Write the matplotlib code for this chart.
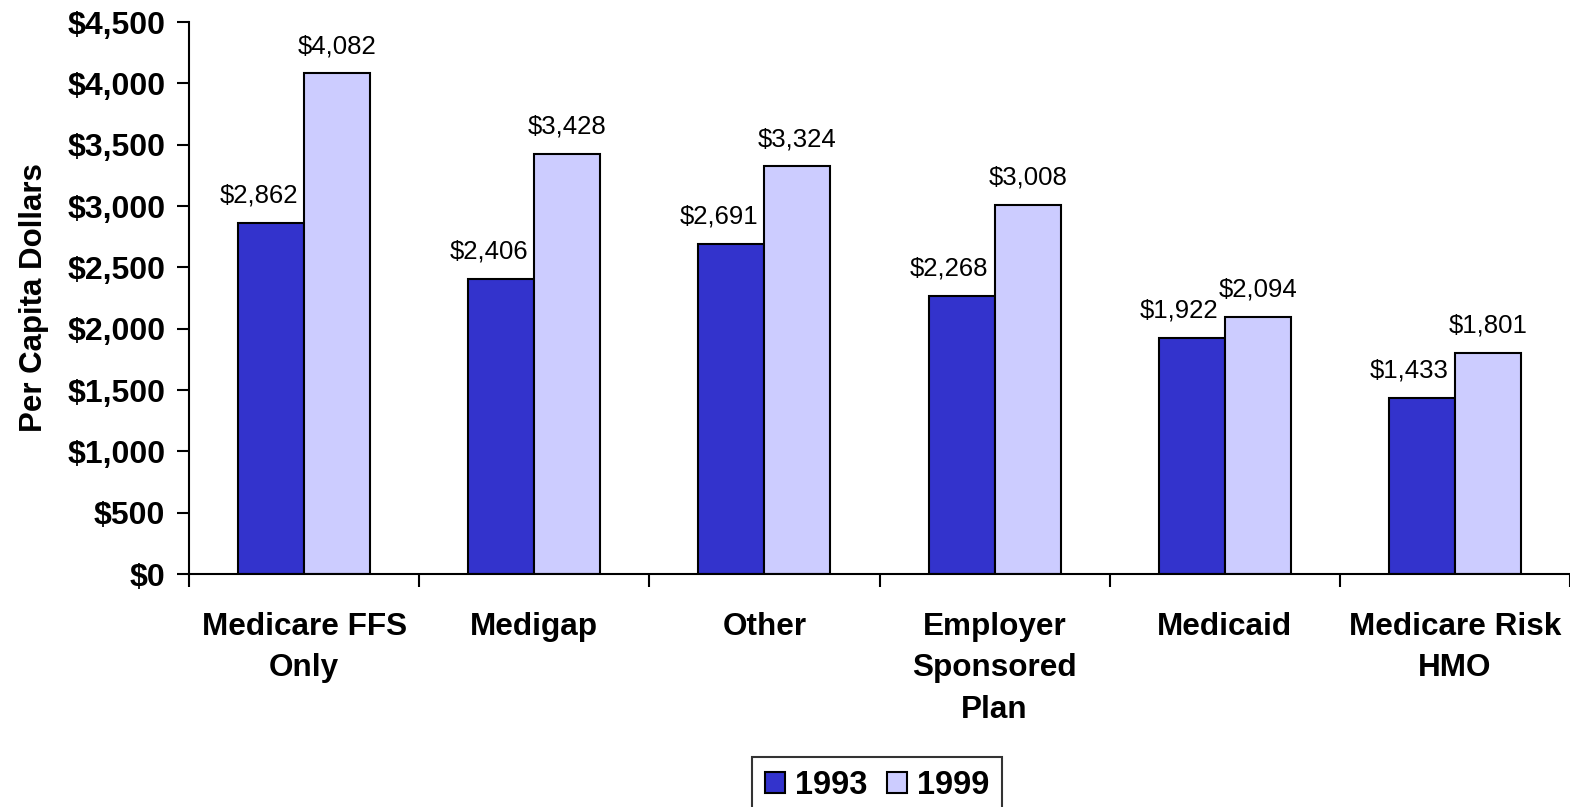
import numpy as np
import matplotlib.pyplot as plt
from matplotlib.ticker import FuncFormatter

plt.rcParams['font.family'] = ['Liberation Sans', 'DejaVu Sans']

# data
categories = ["Medicare FFS\nOnly", "Medigap", "Other", "Employer\nSponsored\nPlan",
              "Medicaid", "Medicare Risk\nHMO"]
values_1993 = [2862, 2406, 2691, 2268, 1922, 1433]
values_1999 = [4082, 3428, 3324, 3008, 2094, 1801]
years = ["1993", "1999"]
colors = ["#3333CC", "#CCCCFF"]

fig = plt.figure(figsize=(15.7, 8.07), dpi=100)
ax = fig.add_axes([0.1204, 0.2887, 0.8796, 0.684])

x = np.arange(len(categories))
w = 0.287
b1 = ax.bar(x - w / 2, values_1993, w, color=colors[0], edgecolor="black",
            linewidth=1.5, label=years[0], zorder=2)
b2 = ax.bar(x + w / 2, values_1999, w, color=colors[1], edgecolor="black",
            linewidth=1.5, label=years[1], zorder=2)

# value labels above the bars
for bars, dx in [(b1, -9), (b2, 0)]:
    for rect in bars:
        h = rect.get_height()
        ax.annotate("${:,.0f}".format(h), (rect.get_x() + rect.get_width() / 2, h),
                    xytext=(dx, 11), textcoords="offset points",
                    ha="center", va="bottom", fontsize=18.5)

ax.set_ylim(0, 4500)
ax.set_xlim(-0.5, len(categories) - 0.5)
ax.set_yticks(np.arange(0, 4501, 500))
ax.yaxis.set_major_formatter(FuncFormatter(lambda v, p: "${:,.0f}".format(v)))
ax.set_ylabel("Per Capita Dollars", fontsize=22.5, fontweight="bold", labelpad=13)

# category labels between boundary ticks
ax.set_xticks(np.arange(len(categories) + 1) - 0.5)
ax.set_xticklabels([])
ax.set_xticks(x, minor=True)
ax.set_xticklabels(categories, minor=True, fontsize=22.7, fontweight="bold",
                   linespacing=1.52)
ax.tick_params(axis="x", which="minor", length=0, pad=27)
ax.tick_params(axis="x", which="major", length=9, width=1.5, direction="out")
ax.tick_params(axis="y", length=9, width=1.5, direction="out", labelsize=23, pad=8)
for lbl in ax.get_yticklabels():
    lbl.set_fontweight("bold")

for side in ["top", "right"]:
    ax.spines[side].set_visible(False)
for side in ["left", "bottom"]:
    ax.spines[side].set_linewidth(1.5)

leg = ax.legend(loc="upper center", bbox_to_anchor=(0.498, -0.3315), ncol=2,
                prop={"weight": "bold", "size": 23.5}, frameon=True, fancybox=False,
                edgecolor="black", handlelength=0.62, handleheight=0.62,
                handletextpad=0.3, columnspacing=0.6, borderpad=0.4,
                borderaxespad=0)
leg.get_frame().set_linewidth(1.5)

fig.savefig("out.png", dpi=100)
